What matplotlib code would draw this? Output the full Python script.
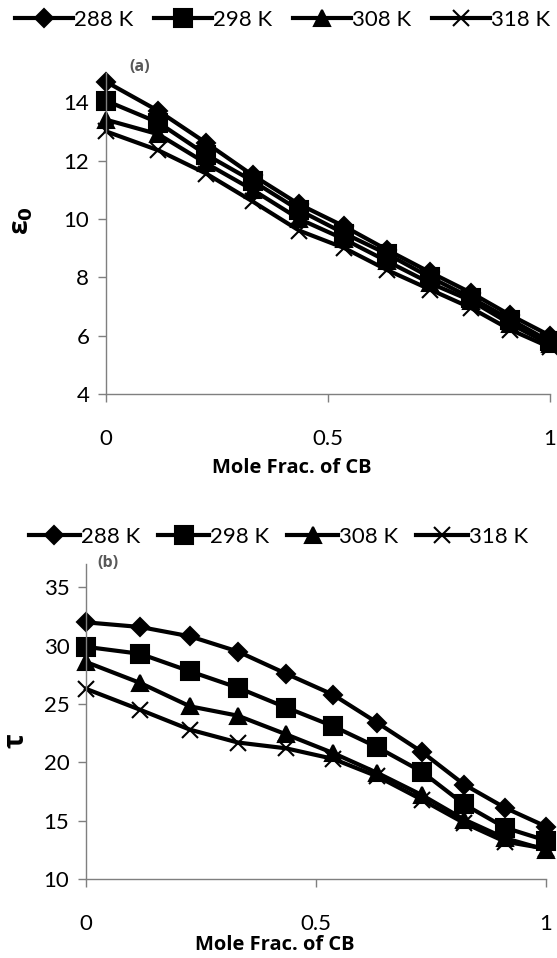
import matplotlib
matplotlib.use("Agg")
import matplotlib.pyplot as plt

plt.rcParams['font.family'] = ['Lato', 'DejaVu Sans']
BOLD_FONT = ['Open Sans', 'DejaVu Sans']

# mole fraction of CB
x_cb = [0, 0.118, 0.226, 0.330, 0.435, 0.537, 0.633, 0.730, 0.822, 0.911, 1.0]

TEMPS = ["288 K", "298 K", "308 K", "318 K"]
MARKERS = {"288 K": "D", "298 K": "s", "308 K": "^", "318 K": "x"}
MSIZES = {"288 K": 9, "298 K": 13, "308 K": 11, "318 K": 11}

# (a) static permittivity eps_0
eps0_288 = [14.7, 13.7, 12.6, 11.5, 10.5, 9.74, 8.94, 8.17, 7.47, 6.7, 6.0]
eps0_298 = [14.05, 13.3, 12.2, 11.3, 10.3, 9.5, 8.8, 8.0, 7.3, 6.55, 5.8]
eps0_308 = [13.4, 12.9, 11.9, 11.0, 10.0, 9.3, 8.55, 7.8, 7.2, 6.4, 5.7]
eps0_318 = [13.0, 12.35, 11.55, 10.6, 9.6, 9.0, 8.25, 7.58, 6.95, 6.2, 5.6]

# (b) relaxation time tau
tau_288 = [32.0, 31.6, 30.8, 29.5, 27.6, 25.8, 23.4, 20.9, 18.1, 16.1, 14.5]
tau_298 = [29.9, 29.3, 27.8, 26.4, 24.7, 23.1, 21.3, 19.2, 16.4, 14.4, 13.3]
tau_308 = [28.6, 26.8, 24.8, 24.0, 22.4, 20.8, 19.1, 17.2, 15.1, 13.5, 12.5]
tau_318 = [26.3, 24.5, 22.8, 21.7, 21.2, 20.3, 18.8, 16.8, 14.8, 13.2, 12.6]

EPS = dict(zip(TEMPS, [eps0_288, eps0_298, eps0_308, eps0_318]))
TAU = dict(zip(TEMPS, [tau_288, tau_298, tau_308, tau_318]))

W, H = 557, 958
fig = plt.figure(figsize=(W / 100, H / 100), dpi=100)


def px_axes(left, right, bottom, top):
    return fig.add_axes([left / W, (H - bottom) / H, (right - left) / W, (bottom - top) / H])


def style_axes(ax, ylim, yticks):
    for s in ['top', 'right']:
        ax.spines[s].set_visible(False)
    for s in ['left', 'bottom']:
        ax.spines[s].set_color('#7f7f7f')
        ax.spines[s].set_linewidth(1.0)
    ax.set_xlim(0, 1)
    ax.set_ylim(*ylim)
    ax.set_xticks([0, 0.5, 1])
    ax.set_xticklabels(['0', '0.5', '1'])
    ax.set_yticks(yticks)
    ax.tick_params(axis='both', direction='out', length=6, width=1.0, color='#7f7f7f',
                   labelsize=16)
    ax.tick_params(axis='x', pad=19)
    ax.tick_params(axis='y', pad=6)


def draw(ax, data):
    handles = []
    for t in TEMPS:
        h, = ax.plot(x_cb, data[t], color='black', linewidth=3, marker=MARKERS[t],
                     markersize=MSIZES[t], markerfacecolor='black', markeredgecolor='black',
                     markeredgewidth=1.5, clip_on=False, label=t)
        handles.append(h)
    return handles


# panel (a)
ax1 = px_axes(106, 550, 394, 73)
hs = draw(ax1, EPS)
style_axes(ax1, (4, 15), [4, 6, 8, 10, 12, 14])
ax1.set_ylabel('ε$_\\mathbf{0}$', fontsize=19, fontweight='bold', family=BOLD_FONT)
ax1.yaxis.set_label_coords(-0.16, 0.54)
fig.text(292 / W, 1 - 468 / H, 'Mole Frac. of CB', ha='center', va='center',
         fontsize=14.5, fontweight='bold', family=BOLD_FONT)
fig.text(140 / W, 1 - 67 / H, '(a)', ha='center', va='center', fontsize=11.5,
         fontweight='bold', color='#595959', family=BOLD_FONT)
fig.legend(handles=hs, loc='center left', bbox_to_anchor=(6 / W, 1 - 20 / H), ncol=4,
           frameon=False, fontsize=16, handlelength=2.6, handletextpad=0.05,
           columnspacing=0.95, borderaxespad=0)

# panel (b)
ax2 = px_axes(86, 546, 879, 564)
hs = draw(ax2, TAU)
style_axes(ax2, (10, 37), [10, 15, 20, 25, 30, 35])
ax2.set_ylabel('τ', fontsize=20, fontweight='bold', family=BOLD_FONT)
ax2.yaxis.set_label_coords(-0.12, 0.44)
fig.text(275 / W, 1 - 945 / H, 'Mole Frac. of CB', ha='center', va='center',
         fontsize=14.5, fontweight='bold', family=BOLD_FONT)
fig.text(108 / W, 1 - 563 / H, '(b)', ha='center', va='center', fontsize=11.5,
         fontweight='bold', color='#595959', family=BOLD_FONT)
fig.legend(handles=hs, loc='center left', bbox_to_anchor=(20 / W, 1 - 537 / H), ncol=4,
           frameon=False, fontsize=16, handlelength=2.3, handletextpad=0.05,
           columnspacing=0.8, borderaxespad=0)

fig.savefig('out.png', dpi=100)
